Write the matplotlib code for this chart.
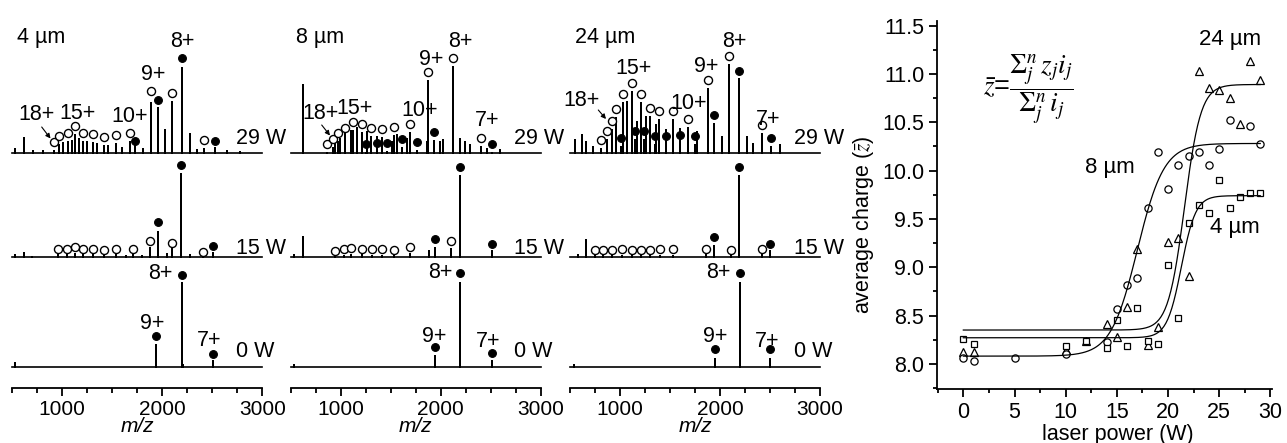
import numpy as np
import matplotlib
matplotlib.use("Agg")
import matplotlib.pyplot as plt
from matplotlib.ticker import MultipleLocator, FixedLocator, FormatStrFormatter

plt.rcParams['font.family'] = ['Liberation Sans', 'DejaVu Sans']

# ---------------------------------------------------------------- data
# m/z axis of the spectra
MZ_MIN, MZ_MAX = 500, 3000
mz_major = [1000, 2000, 3000]

# ---- 4 µm panel ----------------------------------------------------
# 29 W
s4_29_other_mz = [527, 617, 710, 810, 1010, 1094, 1170, 1250, 1344, 1460, 1594, 1810, 2027, 2277, 2344, 2644, 2777]
s4_29_other_h = [4.3, 16, 2.7, 2.7, 11, 12.7, 14.3, 11.7, 9.3, 7.7, 6, 4.3, 23.5, 19.7, 4, 2.7, 2]
s4_29_apo_mz = [920, 970, 1054, 1127, 1210, 1304, 1420, 1534, 1677, 1885, 2100, 2417]
s4_29_apo_h = [3, 8.7, 12, 18.7, 12, 10.7, 8, 9.7, 12, 51, 51.4, 4.7]
s4_29_apo_mk = [11, 16.7, 20, 26.7, 20, 18.7, 16, 17.7, 20, 62, 59.4, 12.7]
s4_29_holo_mz = [1727, 1954, 2194, 2525]
s4_29_holo_h = [7.7, 46, 86, 6]
s4_29_holo_mk = [11.7, 52.7, 94.4, 11.7]
# 15 W
s4_15_other_mz = [527, 617, 700, 1640, 1800, 2044, 2277]
s4_15_other_h = [3, 5.6, 1.5, 2, 2, 4, 3]
s4_15_apo_mz = [960, 1044, 1127, 1210, 1310, 1417, 1537, 1704, 1877, 2100, 2410]
s4_15_apo_h = [3, 3, 4, 3, 3, 2.5, 3, 3, 10.6, 9, 2]
s4_15_apo_mk = [8.3, 8.3, 10.6, 8.3, 8.3, 7.3, 8.3, 8.3, 16.6, 14.6, 5.6]
s4_15_holo_mz = [1954, 2190, 2510]
s4_15_holo_h = [26.6, 84, 5.6]
s4_15_holo_mk = [35.6, 92.3, 11.3]
# 0 W
s4_0_other_mz = [527, 2210]
s4_0_other_h = [5, 3]
s4_0_holo_mz = [1940, 2194, 2510]
s4_0_holo_h = [22.7, 85, 6.7]
s4_0_holo_mk = [30.7, 91.7, 12.7]

# ---- 8 µm panel ----------------------------------------------------
s8_29_other_mz = [620, 943, 993, 1043, 1100, 1160, 1266, 1360, 1410, 1510, 1560, 1660, 1860, 1993, 2026, 2193, 2243, 2293, 2460, 2593]
s8_29_other_h = [68.7, 11.7, 15, 20, 23, 25.7, 21.7, 16.7, 15, 11.7, 18.3, 15, 11.7, 11.7, 13.3, 15, 11.7, 8.3, 5, 3.3]
s8_29_apo_mz = [860, 926, 976, 1043, 1126, 1210, 1303, 1416, 1533, 1693, 1876, 2120, 2405]
s8_29_apo_h = [1, 5.4, 12, 16.4, 22.4, 20.4, 16.4, 15.4, 18, 20.4, 72.4, 86.4, 6.4]
s8_29_apo_mk = [8.7, 13.4, 20, 24.4, 30.4, 28.4, 24.4, 23.4, 26, 28.4, 80.4, 94.4, 14.4]
s8_29_holo_mz = [1253, 1360, 1460, 1610, 1766, 1936, 2516]
s8_29_holo_h = [1, 1.4, 2, 5.4, 3, 12.4, 1]
s8_29_holo_mk = [8.7, 9.4, 10, 13.4, 11, 20.4, 8.7]
s8_15_other_mz = [530, 625, 1886]
s8_15_other_h = [3, 21, 7.3]
s8_15_apo_mz = [947, 1029, 1107, 1214, 1311, 1411, 1529, 1689, 2107]
s8_15_apo_h = [1.5, 2.5, 3, 3, 2.5, 2.5, 2.5, 4, 9]
s8_15_apo_mk = [6, 8, 9, 8.3, 8, 8, 7.3, 10.6, 16.6]
s8_15_holo_mz = [1947, 2189, 2518]
s8_15_holo_h = [10.6, 82, 7]
s8_15_holo_mk = [18, 90.6, 13]
s8_0_other_mz = [530]
s8_0_other_h = [3]
s8_0_holo_mz = [1939, 2195, 2518]
s8_0_holo_h = [11.7, 85, 6.7]
s8_0_holo_mk = [19.4, 94, 14]

# ---- 24 µm panel ---------------------------------------------------
s24_29_other_mz = [550, 617, 660, 733, 1067, 1173, 1260, 1360, 1460, 1600, 1773, 2023, 2273, 2333, 2600]
s24_29_other_h = [13.3, 18.3, 11.7, 6.7, 51.7, 31.7, 36.7, 28.3, 23.3, 25, 21.7, 16.7, 16.7, 10, 8.3]
s24_29_apo_mz = [807, 867, 917, 960, 1027, 1117, 1210, 1300, 1393, 1527, 1683, 1877, 2093, 2417]
s24_29_apo_h = [5, 13.3, 23.3, 36, 50.7, 61.7, 50.7, 36.7, 33.3, 33.3, 26, 65, 88.3, 20]
s24_29_apo_mk = [13, 21.3, 31.3, 44, 58.7, 69.7, 58.7, 44.7, 41.3, 41.3, 34, 73, 96.3, 28]
s24_29_holo_mz = [1007, 1150, 1240, 1350, 1460, 1600, 1750, 1940, 2190, 2507]
s24_29_holo_h = [7, 13.6, 13.6, 9, 9, 10, 9, 30, 75, 7]
s24_29_holo_mk = [15, 21.6, 21.6, 17, 17, 18, 17, 38, 82, 15]
s24_15_other_mz = [580, 664]
s24_15_other_h = [3, 18]
s24_15_apo_mz = [750, 832, 921, 1018, 1118, 1207, 1296, 1404, 1529, 1857, 2107, 2421]
s24_15_apo_h = [2, 2, 2, 2, 2, 2, 2, 2, 2, 4, 3, 3]
s24_15_apo_mk = [7.5, 7, 7.5, 8, 7, 7.5, 7.5, 8, 8, 8.5, 7.5, 8.5]
s24_15_holo_mz = [1939, 2189, 2500]
s24_15_holo_h = [12, 82, 7]
s24_15_holo_mk = [20, 90.6, 13]
s24_0_other_mz = [540]
s24_0_other_h = [3]
s24_0_holo_mz = [1950, 2195, 2504]
s24_0_holo_h = [8.7, 85, 8.7]
s24_0_holo_mk = [17.7, 94, 17.7]

# ---- average charge vs laser power ---------------------------------
p24 = [0, 1, 10, 12, 14, 15, 16, 17, 18, 19, 20, 21, 22, 23, 24, 25, 26, 27, 28, 29]
z24 = [8.12, 8.12, 8.14, 8.24, 8.41, 8.28, 8.59, 9.19, 8.20, 8.38, 9.26, 9.30, 8.91,
       11.03, 10.85, 10.83, 10.75, 10.48, 11.13, 10.94]
p8 = [0, 1, 5, 10, 14, 15, 16, 17, 18, 19, 20, 21, 22, 23, 24, 25, 26, 28, 29]
z8 = [8.06, 8.03, 8.06, 8.10, 8.23, 8.57, 8.82, 8.89, 9.61, 10.19, 9.81, 10.06, 10.15,
      10.19, 10.06, 10.22, 10.52, 10.46, 10.27]
p4 = [0, 1, 10, 12, 14, 15, 16, 17, 18, 19, 20, 21, 22, 23, 24, 25, 26, 27, 28, 29]
z4 = [8.26, 8.21, 8.19, 8.24, 8.16, 8.45, 8.19, 8.58, 8.24, 8.21, 9.02, 8.47, 9.46,
      9.64, 9.56, 9.90, 9.61, 9.73, 9.77, 9.77]
# Boltzmann fit parameters (A1, A2, x0, dx)
fit24 = (8.35, 10.89, 21.6, 0.8)
fit8 = (8.08, 10.28, 17.0, 1.3)
fit4 = (8.27, 9.74, 21.3, 0.7)

# ---------------------------------------------------------------- layout
W, H = 1287, 443
fig = plt.figure(figsize=(W / 100, H / 100), dpi=100)


def fx(px):
    return px / W


def fy(py):
    return 1 - py / H


AX_BOTTOM_PX = 388          # x-axis line of spectra (from top)
BASE = {29: 388 - 152.7, 15: 388 - 257.3, 0: 388 - 366.7}   # baselines in axis units
FS = 15.5


def draw_trace(ax, base, other_mz, other_h, apo_mz=(), apo_h=(), apo_mk=(),
               holo_mz=(), holo_h=(), holo_mk=()):
    mz = np.concatenate([other_mz, apo_mz, holo_mz]).astype(float)
    hh = np.concatenate([other_h, apo_h, holo_h]).astype(float)
    order = np.argsort(mz)
    xs = [MZ_MIN]
    ys = [base]
    for m, h in zip(mz[order], hh[order]):
        xs += [m, m, m]
        ys += [base, base + h, base]
    xs.append(MZ_MAX)
    ys.append(base)
    ax.plot(xs, ys, color='k', lw=1.2, solid_joinstyle='miter', clip_on=False)
    if len(apo_mz):
        ax.plot(apo_mz, base + np.asarray(apo_mk), 'o', mfc='white', mec='k',
                ms=5.8, mew=1.0, clip_on=False)
    if len(holo_mz):
        ax.plot(holo_mz, base + np.asarray(holo_mk), 'o', mfc='k', mec='k',
                ms=5.6, mew=0.8, clip_on=False)


def spectrum_axes(left_px):
    ax = fig.add_axes([fx(left_px), 1 - AX_BOTTOM_PX / H, 250 / W, AX_BOTTOM_PX / H])
    ax.set_xlim(MZ_MIN, MZ_MAX)
    ax.set_ylim(0, AX_BOTTOM_PX)
    for s in ('left', 'right', 'top'):
        ax.spines[s].set_visible(False)
    ax.spines['bottom'].set_linewidth(1.3)
    ax.set_yticks([])
    ax.xaxis.set_major_locator(FixedLocator(mz_major))
    ax.xaxis.set_minor_locator(MultipleLocator(250))
    ax.tick_params(axis='x', which='major', direction='out', length=5.5, width=1.3,
                   labelsize=15, pad=3)
    ax.tick_params(axis='x', which='minor', direction='out', length=3.5, width=1.3)
    ax.set_xlabel('m/z', style='italic', fontsize=15, labelpad=-1)
    ax.patch.set_alpha(0)
    return ax


panels = [
    (12.3, '4 µm',
     (s4_29_other_mz, s4_29_other_h, s4_29_apo_mz, s4_29_apo_h, s4_29_apo_mk, s4_29_holo_mz, s4_29_holo_h, s4_29_holo_mk),
     (s4_15_other_mz, s4_15_other_h, s4_15_apo_mz, s4_15_apo_h, s4_15_apo_mk, s4_15_holo_mz, s4_15_holo_h, s4_15_holo_mk),
     (s4_0_other_mz, s4_0_other_h, [], [], [], s4_0_holo_mz, s4_0_holo_h, s4_0_holo_mk)),
    (290.7, '8 µm',
     (s8_29_other_mz, s8_29_other_h, s8_29_apo_mz, s8_29_apo_h, s8_29_apo_mk, s8_29_holo_mz, s8_29_holo_h, s8_29_holo_mk),
     (s8_15_other_mz, s8_15_other_h, s8_15_apo_mz, s8_15_apo_h, s8_15_apo_mk, s8_15_holo_mz, s8_15_holo_h, s8_15_holo_mk),
     (s8_0_other_mz, s8_0_other_h, [], [], [], s8_0_holo_mz, s8_0_holo_h, s8_0_holo_mk)),
    (570.0, '24 µm',
     (s24_29_other_mz, s24_29_other_h, s24_29_apo_mz, s24_29_apo_h, s24_29_apo_mk, s24_29_holo_mz, s24_29_holo_h, s24_29_holo_mk),
     (s24_15_other_mz, s24_15_other_h, s24_15_apo_mz, s24_15_apo_h, s24_15_apo_mk, s24_15_holo_mz, s24_15_holo_h, s24_15_holo_mk),
     (s24_0_other_mz, s24_0_other_h, [], [], [], s24_0_holo_mz, s24_0_holo_h, s24_0_holo_mk)),
]

for left, title, t29, t15, t0 in panels:
    ax = spectrum_axes(left)
    draw_trace(ax, BASE[29], *t29)
    draw_trace(ax, BASE[15], *t15)
    draw_trace(ax, BASE[0], *t0)
    fig.text(fx(left + 5), fy(37.5), title, fontsize=FS, ha='left', va='center')
    fig.text(fx(left + 223.5), fy(138), '29 W', fontsize=FS, ha='left', va='center')
    fig.text(fx(left + 223.5), fy(248), '15 W', fontsize=FS, ha='left', va='center')
    fig.text(fx(left + 223.5), fy(351.5), '0 W', fontsize=FS, ha='left', va='center')


def lab(x, y, s):
    fig.text(fx(x), fy(y), s, fontsize=FS, ha='center', va='center')


def arrow(x0, y0, x1, y1):
    fig.add_artist(matplotlib.patches.FancyArrowPatch(
        (fx(x0), fy(y0)), (fx(x1), fy(y1)), transform=fig.transFigure,
        arrowstyle='-|>', mutation_scale=7, lw=0.8, color='k', shrinkA=0, shrinkB=0))


# charge-state labels (4 µm)
lab(182.7, 41.7, '8+'); lab(153.3, 75, '9+'); lab(130, 116.7, '10+')
lab(77.3, 113.3, '15+'); lab(36.7, 115, '18+')
lab(160, 273.3, '8+'); lab(151.7, 323.3, '9+'); lab(209.3, 340, '7+')
arrow(41.7, 127, 50.5, 138.5)
# (8 µm)
lab(460, 41.7, '8+'); lab(431, 59.3, '9+'); lab(420, 110, '10+')
lab(355, 108.3, '15+'); lab(320, 113.3, '18+'); lab(487.3, 120, '7+')
lab(440.7, 272.7, '8+'); lab(434.3, 336, '9+'); lab(488.2, 341.7, '7+')
arrow(321.7, 125, 330, 135.5)
# (24 µm)
lab(734, 41.7, '8+'); lab(705.7, 66.7, '9+'); lab(633.3, 68.3, '15+')
lab(581.7, 100, '18+'); lab(688.3, 103.3, '10+'); lab(768.3, 119.3, '7+')
lab(718.6, 272.7, '8+'); lab(715, 336, '9+'); lab(766.8, 341.7, '7+')
arrow(598.3, 110, 606, 119)

# ---------------------------------------------------------------- right panel
RL, RR, RT, RB = 936.7, 1272.0, 20.7, 389.0
axr = fig.add_axes([fx(RL), fy(RB), (RR - RL) / W, (RB - RT) / H])
axr.set_xlim(-2.6, 30.15)
axr.set_ylim(7.74, 11.55)
for s in ('right', 'top'):
    axr.spines[s].set_visible(False)
for s in ('left', 'bottom'):
    axr.spines[s].set_linewidth(1.3)
axr.xaxis.set_major_locator(MultipleLocator(5))
axr.xaxis.set_minor_locator(MultipleLocator(2.5))
axr.yaxis.set_major_locator(MultipleLocator(0.5))
axr.yaxis.set_minor_locator(MultipleLocator(0.25))
axr.yaxis.set_major_formatter(FormatStrFormatter('%.1f'))
axr.tick_params(which='major', direction='out', length=5.5, width=1.3, labelsize=15.5, pad=3.5)
axr.tick_params(which='minor', direction='out', length=3, width=1.3)
axr.set_xlabel('laser power (W)', fontsize=15.5, labelpad=0)
axr.xaxis.set_label_coords((1118 - RL) / (RR - RL), -0.095)
axr.set_ylabel(r'average charge ($\bar{z}$)', fontsize=15.5, math_fontfamily='stix')
axr.yaxis.set_label_coords(-(RL - 876) / (RR - RL), (RB - 225) / (RB - RT))

mk = dict(mfc='white', mec='k', mew=0.9, ls='none')
axr.plot(p24, z24, marker='^', ms=5.5, **mk)
axr.plot(p8, z8, marker='o', ms=5.2, **mk)
axr.plot(p4, z4, marker='s', ms=4.6, **mk)

xf = np.linspace(0, 29, 300)
for (a1, a2, x0, dx) in (fit24, fit8, fit4):
    axr.plot(xf, a2 + (a1 - a2) / (1 + np.exp((xf - x0) / dx)), color='k', lw=0.9)

fig.text(fx(1230), fy(39), '24 µm', fontsize=16, ha='center', va='center')
fig.text(fx(1110), fy(168), '8 µm', fontsize=16, ha='center', va='center')
fig.text(fx(1235), fy(228), '4 µm', fontsize=16, ha='center', va='center')
fig.text(fx(1028), fy(89), r'$\bar{z}$=$\dfrac{\Sigma_j^n\, z_j i_j}{\Sigma_j^n\, i_j}$',
         fontsize=19.5, math_fontfamily='stix', ha='center', va='center')

fig.savefig('out.png', dpi=100)
